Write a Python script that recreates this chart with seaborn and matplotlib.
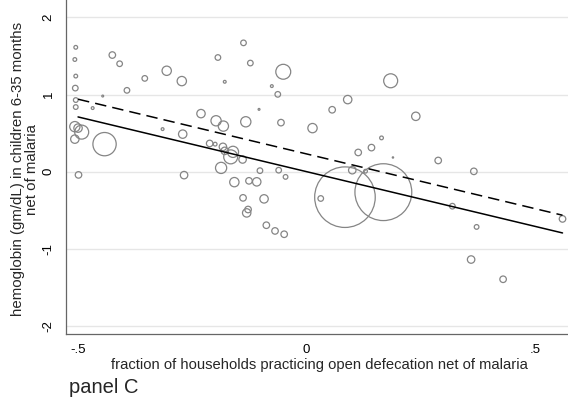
import numpy as np
import pandas as pd
import matplotlib
matplotlib.use("Agg")
import matplotlib.pyplot as plt
import seaborn as sns

# open defecation share (net of malaria) per region
od_share = [-0.505, -0.507, -0.505, -0.506, -0.505, -0.505, -0.507, -0.500, -0.492, -0.507,
            -0.499, -0.442, -0.468, -0.446, -0.425, -0.409, -0.393, -0.354, -0.306, -0.273,
            -0.315, -0.271, -0.268, -0.194, -0.179, -0.231, -0.198, -0.182, -0.212, -0.200,
            -0.183, -0.179, -0.161, -0.166, -0.140, -0.187, -0.158, -0.126, -0.109, -0.102,
            -0.061, -0.046, -0.139, -0.093, -0.128, -0.131, -0.088, -0.069, -0.049, -0.138,
            -0.123, -0.051, -0.076, -0.063, -0.104, -0.133, -0.056, 0.013, 0.056, 0.090,
            0.113, 0.142, 0.164, 0.189, 0.184, 0.239, 0.288, 0.366, 0.100, 0.129,
            0.084, 0.168, 0.031, 0.319, 0.372, 0.560, 0.360, 0.430]

# child hemoglobin (gm/dL, net of malaria) per region
hemoglobin = [1.613, 1.455, 1.240, 1.084, 0.929, 0.838, 0.584, 0.565, 0.513, 0.422,
              -0.042, 0.357, 0.825, 0.981, 1.513, 1.400, 1.055, 1.210, 1.309, 1.175,
              0.552, 0.487, -0.045, 1.481, 1.166, 0.753, 0.660, 0.591, 0.366, 0.357,
              0.322, 0.270, 0.257, 0.192, 0.158, 0.049, -0.136, -0.119, -0.132, 0.013,
              0.019, -0.068, -0.340, -0.353, -0.491, -0.535, -0.695, -0.769, -0.812, 1.671,
              1.409, 1.296, 1.110, 1.003, 0.808, 0.647, 0.636, 0.565, 0.803, 0.935,
              0.249, 0.312, 0.438, 0.184, 1.179, 0.718, 0.145, 0.004, 0.019, 0.006,
              -0.331, -0.266, -0.348, -0.448, -0.717, -0.613, -1.140, -1.396]

# survey weight of each region
weight = [16, 16, 16, 36, 25, 25, 121, 81, 225, 81,
          49, 625, 9, 4, 49, 36, 36, 36, 100, 100,
          9, 81, 64, 36, 9, 81, 121, 121, 49, 16,
          64, 64, 144, 225, 64, 144, 100, 49, 81, 36,
          36, 25, 49, 81, 49, 81, 49, 49, 49, 36,
          36, 256, 9, 36, 4, 121, 49, 100, 49, 81,
          49, 49, 16, 2, 225, 81, 49, 49, 64, 16,
          4225, 3721, 36, 36, 25, 49, 64, 49]

# fitted lines: endpoints of x, intercept and slope
fit_x = [-0.5, 0.56]
fit_solid = (0.0, -1.42)
fit_dashed = (0.23, -1.42)

x_ticks = [-0.5, 0, 0.5]
x_ticklabels = ["-.5", "0", ".5"]
y_ticks = [-2, -1, 0, 1, 2]
y_ticklabels = ["-2", "-1", "0", "1", "2"]

df = pd.DataFrame({"od": od_share, "hb": hemoglobin, "w": weight})

sns.set_style("white")
plt.rcParams["font.family"] = ["Liberation Sans", "DejaVu Sans"]

fig = plt.figure(figsize=(5.68, 3.99), dpi=100)
ax = fig.add_axes([65.7 / 568, (399 - 334.3) / 399, (568 - 65.7) / 568, 334.3 / 399])

k = 0.45
wmin, wmax = min(weight), max(weight)
sns.scatterplot(data=df, x="od", y="hb", size="w", sizes=(wmin * k, wmax * k),
                size_norm=(wmin, wmax), facecolor="none", edgecolor="#858585",
                linewidth=0.9, legend=False, ax=ax, zorder=3)

fx = np.array(fit_x)
sns.lineplot(x=fx, y=fit_dashed[0] + fit_dashed[1] * fx, color="black", lw=1.1,
             linestyle=(0, (7.5, 4)), ax=ax, zorder=4)
sns.lineplot(x=fx, y=fit_solid[0] + fit_solid[1] * fx, color="black", lw=1.1,
             ax=ax, zorder=4)

ax.set_xlim(-0.527, 0.572)
ax.set_ylim(-2.11, 2.227)

ax.set_xticks(x_ticks)
ax.set_xticklabels(x_ticklabels, fontsize=9.5)
ax.set_yticks(y_ticks)
ax.set_yticklabels(y_ticklabels, fontsize=9.5, rotation=90, va="center")
ax.tick_params(axis="both", direction="out", length=4, width=0.8, color="#555555",
               pad=3, labelcolor="black")
ax.tick_params(axis="y", pad=4)

ax.yaxis.grid(True, color="#e6e6e6", lw=1.0)
ax.xaxis.grid(False)
ax.set_axisbelow(True)

for s in ["top", "right"]:
    ax.spines[s].set_visible(False)
for s in ["left", "bottom"]:
    ax.spines[s].set_color("#666666")
    ax.spines[s].set_linewidth(0.9)

ax.set_xlabel("fraction of households practicing open defecation net of malaria",
              fontsize=10.6)
ax.xaxis.set_label_coords(0.506, -0.071)
ax.set_ylabel("hemoglobin (gm/dL) in children 6-35 months\nnet of malaria",
              fontsize=10.8, linespacing=1.0)
ax.yaxis.set_label_coords(-0.054, 0.494)

fig.text(69 / 568, 1 - 393 / 399, "panel C", fontsize=14.5, ha="left", va="baseline")

fig.savefig("out.png", dpi=100)
